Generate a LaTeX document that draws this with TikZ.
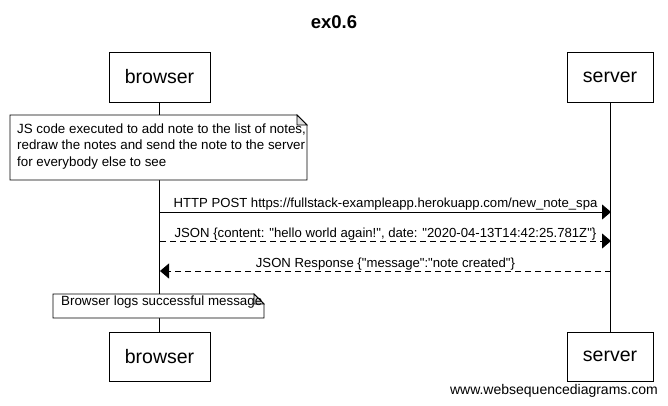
\documentclass[tikz,border=0pt]{standalone}
\usepackage{fontspec}
\setmainfont{Liberation Sans}[Ligatures=TeXOff]
\usetikzlibrary{arrows.meta}
\begin{document}
\begin{tikzpicture}[x=1pt,y=-1pt,
  actor/.style={draw, line width=0.9pt, fill=white, inner sep=0pt, font=\fontsize{19.5}{22}\selectfont},
  msgline/.style={line width=0.9pt, -{Triangle[length=9pt,width=15pt]}},
  lbl/.style={font=\fontsize{13.15}{15}\selectfont, inner sep=0pt, anchor=base},
  notebox/.style={draw, line width=0.8pt, fill=white},
  notefold/.style={draw, line width=0.8pt, fill=gray!25},
  notetext/.style={font=\fontsize{13.35}{16.5}\selectfont, inner sep=0pt, align=left}]
\useasboundingbox (0,0) rectangle (668,405);
\fill[white] (0,0) rectangle (668,405);
\node[font=\bfseries\fontsize{18.5}{20}\selectfont, inner sep=0pt] (title) at (334,22) {ex0.6};
% participants
\node[actor, minimum width=101pt, minimum height=50pt] (bt) at (159.5,77) {browser};
\node[actor, minimum width=86pt, minimum height=50pt] (st) at (610,77) {server};
\node[actor, minimum width=101pt, minimum height=49pt] (bb) at (159.5,356.5) {browser};
\node[actor, minimum width=86pt, minimum height=49pt] (sb) at (610,356.5) {server};
% lifelines
\draw[line width=0.9pt] (bt.south) -- (bb.north);
\draw[line width=0.9pt] (st.south) -- (sb.north);
% note 1
\draw[notebox] (10,115) -- (297,115) -- (307,125) -- (307,180) -- (10,180) -- cycle;
\draw[notefold] (297,115) -- (297,125) -- (307,125) -- cycle;
\node[notetext, anchor=north west] (n1) at (17,123.5) {JS code executed to add note to the list of notes,\\redraw the notes and send the note to the server\\for everybody else to see};
% messages
\coordinate (b1) at (160,212);
\coordinate (s1) at (611,212);
\coordinate (b2) at (160,241);
\coordinate (s2) at (611,241);
\coordinate (b3) at (160,271);
\coordinate (s3) at (611,271);
\draw[msgline] (b1) -- (s1);
\node[lbl] (l1) at (385.5,207.5) {HTTP POST https://fullstack-exampleapp.herokuapp.com/new\_note\_spa};
\draw[msgline, dash pattern=on 6pt off 4pt] (b2) -- (s2);
\node[lbl] (l2) at (385.5,237) {JSON \{content: "hello world again!", date: "2020-04-13T14:42:25.781Z"\}};
\draw[msgline, dash pattern=on 6pt off 4pt] (s3) -- (b3);
\node[lbl] (l3) at (385.5,267) {JSON Response \{"message":"note created"\}};
% note 2
\draw[notebox] (53,294) -- (254,294) -- (264,304) -- (264,318) -- (53,318) -- cycle;
\draw[notefold] (254,294) -- (254,304) -- (264,304) -- cycle;
\node[notetext, anchor=base west] (n2) at (61,305.5) {Browser logs successful message};
% footer
\node[font=\fontsize{14}{16}\selectfont, inner sep=0pt, anchor=base east] (foot) at (658,394) {www.websequencediagrams.com};
\end{tikzpicture}
\end{document}
